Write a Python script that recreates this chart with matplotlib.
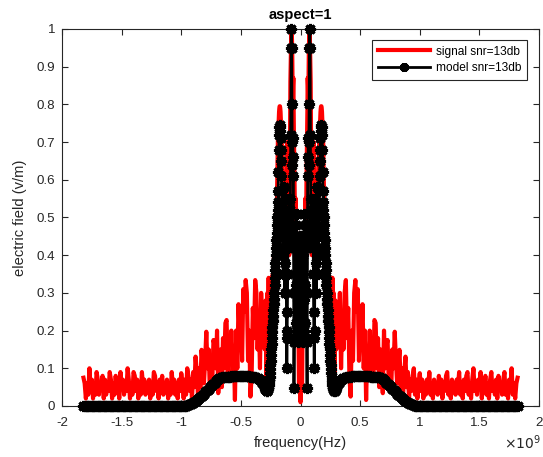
import numpy as np
import matplotlib
matplotlib.use("Agg")
import matplotlib.pyplot as plt

plt.rcParams['font.family'] = ['Liberation Sans', 'DejaVu Sans']
plt.rcParams['axes.unicode_minus'] = False

# one-sided frequency grid in units of 1e9 Hz:
# fine step near the centre, coarser step further out
n_fine, fine_step = 120, 0.0025    # 0 .. 0.2975
n_coarse, coarse_step = 153, 0.01  # 0.30 .. 1.82

# measured signal, positive frequencies (spectrum is symmetric)
signal_centre = [
    0.01, 0.03, 0.08, 0.15, 0.10, 0.04, 0.12, 0.20, 0.30, 0.25,
    0.20, 0.32, 0.42, 0.38, 0.30, 0.45, 0.55, 0.50, 0.40, 0.52,
    0.60, 0.66, 0.70, 0.78, 0.87, 0.85, 0.80, 0.88, 0.95, 0.98,
    1.00, 0.99, 0.95, 0.90, 0.86, 0.75, 0.60, 0.50, 0.40, 0.45,
    0.55, 0.60, 0.65, 0.68, 0.70, 0.69, 0.66, 0.62, 0.50, 0.45,
    0.55, 0.60, 0.52, 0.42, 0.35, 0.40, 0.50, 0.55, 0.50, 0.48,
    0.55, 0.62, 0.66, 0.70, 0.72, 0.74, 0.76, 0.78, 0.79, 0.795,
    0.795, 0.79, 0.78, 0.76, 0.75, 0.73, 0.70, 0.65, 0.60, 0.55,
    0.50, 0.45, 0.52, 0.48, 0.40, 0.45, 0.38, 0.44, 0.36, 0.40,
    0.30, 0.36, 0.28, 0.35, 0.22, 0.32, 0.20, 0.34, 0.18, 0.30,
    0.14, 0.28, 0.12, 0.32, 0.10, 0.30, 0.15, 0.34, 0.10, 0.28,
    0.08, 0.30, 0.12, 0.26, 0.06, 0.25, 0.15, 0.28, 0.18, 0.22,
]
signal_outer = [
    0.15, 0.26, 0.20, 0.30, 0.10, 0.24, 0.15, 0.30, 0.334, 0.18,
    0.26, 0.08, 0.025, 0.20, 0.12, 0.30, 0.334, 0.25, 0.31, 0.12,
    0.22, 0.18, 0.27, 0.10, 0.20, 0.016, 0.15, 0.08, 0.20, 0.12,
    0.17, 0.09, 0.228, 0.22, 0.10, 0.18, 0.05, 0.15, 0.08, 0.034,
    0.20, 0.10, 0.16, 0.175, 0.06, 0.13, 0.04, 0.15, 0.10, 0.197,
    0.12, 0.06, 0.11, 0.149, 0.05, 0.10, 0.03, 0.09, 0.131, 0.05,
    0.09, 0.02, 0.07, 0.04, 0.08, 0.10, 0.03, 0.07, 0.02, 0.06,
    0.087, 0.04, 0.07, 0.02, 0.06, 0.03, 0.07, 0.05, 0.09, 0.03,
    0.06, 0.02, 0.07, 0.04, 0.06, 0.03, 0.08, 0.05, 0.07, 0.02,
    0.06, 0.04, 0.08, 0.09, 0.03, 0.06, 0.02, 0.07, 0.04, 0.06,
    0.03, 0.07, 0.05, 0.09, 0.03, 0.06, 0.02, 0.07, 0.04, 0.08,
    0.09, 0.03, 0.06, 0.02, 0.07, 0.10, 0.04, 0.06, 0.03, 0.07,
    0.05, 0.09, 0.02, 0.06, 0.04, 0.08, 0.03, 0.06, 0.02, 0.07,
    0.09, 0.04, 0.06, 0.03, 0.07, 0.02, 0.08, 0.05, 0.06, 0.03,
    0.07, 0.09, 0.03, 0.06, 0.02, 0.07, 0.04, 0.10, 0.03, 0.06,
    0.02, 0.06, 0.075,
]

# model, positive frequencies
model_centre = [
    0.30, 0.40, 0.22, 0.45, 0.18, 0.38, 0.25, 0.43, 0.17, 0.40,
    0.28, 0.44, 0.20, 0.51, 0.32, 0.48, 0.22, 0.45, 0.18, 0.42,
    0.30, 0.17, 0.048, 0.30, 0.61, 0.66, 0.71, 0.64, 0.70, 0.80,
    0.95, 1.00, 0.95, 0.72, 0.55, 0.48, 0.52, 0.44, 0.55, 0.46,
    0.52, 0.42, 0.50, 0.35, 0.25, 0.18, 0.10, 0.20, 0.35, 0.48,
    0.55, 0.45, 0.38, 0.30, 0.42, 0.52, 0.58, 0.45, 0.35, 0.42,
    0.40, 0.46, 0.52, 0.57, 0.61, 0.65, 0.68, 0.71, 0.73, 0.74,
    0.745, 0.74, 0.72, 0.68, 0.62, 0.57, 0.54, 0.52, 0.50, 0.48,
    0.46, 0.44, 0.42, 0.40, 0.38, 0.36, 0.34, 0.32, 0.30, 0.285,
    0.27, 0.255, 0.24, 0.225, 0.21, 0.195, 0.18, 0.165, 0.15, 0.135,
    0.12, 0.108, 0.097, 0.087, 0.078, 0.07, 0.063, 0.057, 0.052, 0.048,
    0.045, 0.043, 0.042, 0.041, 0.041, 0.042, 0.043, 0.044, 0.045, 0.047,
]
model_outer = [
    0.048, 0.055, 0.060, 0.065, 0.068, 0.071, 0.073, 0.075, 0.076, 0.077,
    0.078, 0.078, 0.078, 0.079, 0.079, 0.079, 0.079, 0.079, 0.079, 0.079,
    0.079, 0.079, 0.079, 0.079, 0.079, 0.079, 0.079, 0.079, 0.079, 0.078,
    0.078, 0.078, 0.078, 0.078, 0.078, 0.078, 0.077, 0.075, 0.073, 0.071,
    0.068, 0.065, 0.062, 0.059, 0.056, 0.053, 0.050, 0.046, 0.043, 0.040,
    0.036, 0.033, 0.030, 0.027, 0.024, 0.021, 0.018, 0.015, 0.013, 0.011,
    0.009, 0.007, 0.006, 0.004, 0.003, 0.002, 0.001, 0.001,
] + [0.0] * 85

f_half = np.concatenate([np.arange(n_fine) * fine_step,
                         0.30 + np.arange(n_coarse) * coarse_step])
signal_half = np.array(signal_centre + signal_outer)
model_half = np.array(model_centre + model_outer)

freq = np.concatenate([-f_half[:0:-1], f_half]) * 1e9
signal = np.concatenate([signal_half[:0:-1], signal_half])
model = np.concatenate([model_half[:0:-1], model_half])

fig = plt.figure(figsize=(5.43, 4.57), dpi=100)
ax = fig.add_axes([0.1142, 0.1116, 0.8785, 0.825])

ax.plot(freq, signal, color='red', lw=3, label='signal snr=13db', zorder=2)
ax.plot(freq, model, color='black', lw=2, marker=(8, 2, 0), ms=8, mew=2.2,
        label='model snr=13db', clip_on=False, zorder=3)

ax.set_xlim(-2e9, 2e9)
ax.set_ylim(0, 1)
ax.set_xticks(np.arange(-2, 2.01, 0.5) * 1e9)
ax.set_yticks(np.arange(0, 1.01, 0.1))
ax.set_yticklabels(['0', '0.1', '0.2', '0.3', '0.4', '0.5', '0.6', '0.7', '0.8', '0.9', '1'])
ax.set_xticklabels(['-2', '-1.5', '-1', '-0.5', '0', '0.5', '1', '1.5', '2'])

ax.tick_params(direction='in', length=4, width=0.8, top=True, right=True,
               labelsize=9.6, colors='#262626')
ax.tick_params(axis='x', pad=8)
ax.tick_params(axis='y', pad=5)
for s in ax.spines.values():
    s.set_color('#262626')
    s.set_linewidth(0.8)

ax.set_title('aspect=1', fontsize=10.6, fontweight='bold', pad=7.5)
ax.set_xlabel('frequency(Hz)', fontsize=10.6, color='#262626', labelpad=5)
ax.set_ylabel('electric field (v/m)', fontsize=10.6, color='#262626', labelpad=6.5)
ax.text(1.003, -0.072, r'$\times10^{9}$', transform=ax.transAxes, ha='right', va='top',
        fontsize=10, color='#262626')

leg = ax.legend(loc='upper right', bbox_to_anchor=(0.975, 0.97), fontsize=8.6,
                frameon=True, fancybox=False, edgecolor='#262626', framealpha=1,
                handlelength=4.4, borderpad=0.45, labelspacing=0.4, handletextpad=0.5,
                borderaxespad=0, markerscale=0.8)
leg.get_frame().set_linewidth(0.8)
leg.set_zorder(5)

fig.savefig('out.png', dpi=100)
